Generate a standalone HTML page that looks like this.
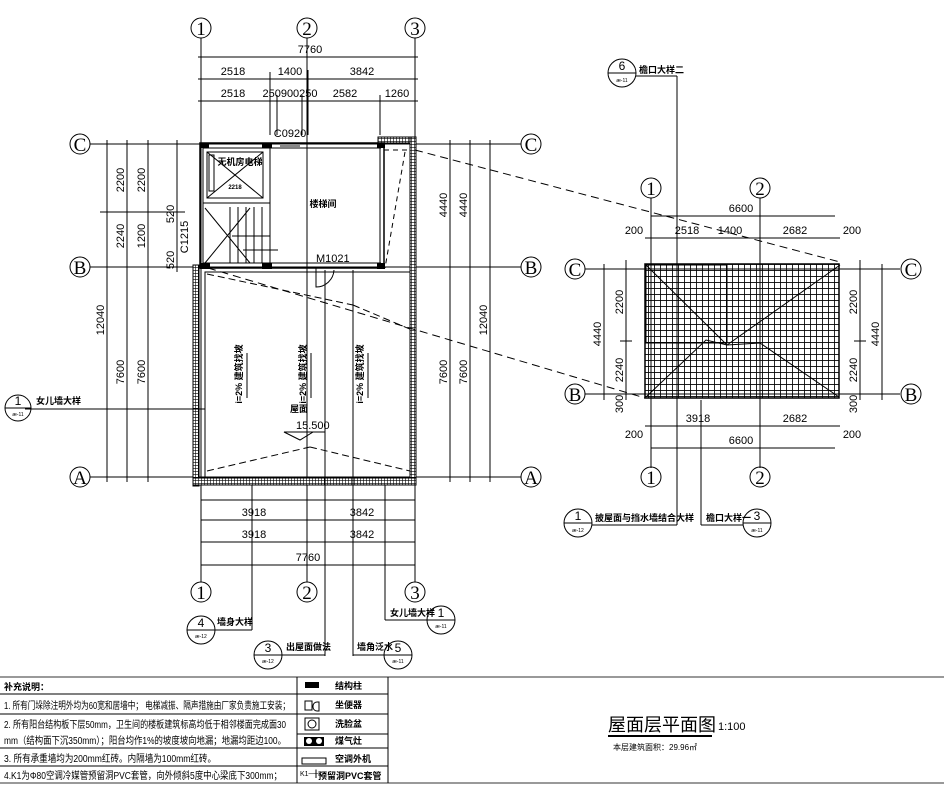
<!DOCTYPE html>
<html><head><meta charset="utf-8"><style>
html,body{margin:0;padding:0;background:#fff;}
svg{display:block;font-family:"Liberation Sans","Noto Sans CJK SC",sans-serif;}
.l{stroke:#000;stroke-width:1;fill:none}
.t{font-size:11px;fill:#000}
.g{font-family:"Liberation Serif",serif;font-size:19px;fill:#000}
.c{font-size:9px;fill:#000;font-weight:bold}
</style></head><body>
<svg width="944" height="785" viewBox="0 0 944 785" xmlns="http://www.w3.org/2000/svg">
<defs>
<pattern id="h" width="3" height="3" patternUnits="userSpaceOnUse"><rect width="3" height="3" fill="#fff"/><path d="M0 0H3M0 0V3" stroke="#000" stroke-width="1.2"/></pattern>
<pattern id="r" width="6" height="6" patternUnits="userSpaceOnUse"><rect width="6" height="6" fill="#fff"/><path d="M0 0H6M0 0V6" stroke="#000" stroke-width="1.7"/></pattern>
</defs>
<rect width="944" height="785" fill="#fff"/>

<!-- ===== LEFT PLAN ===== -->
<g class="l">
<line x1="201" y1="38" x2="201" y2="582"/><line x1="307" y1="38" x2="307" y2="582"/><line x1="415" y1="38" x2="415" y2="582"/>
<line x1="90" y1="144" x2="521" y2="144"/><line x1="90" y1="267" x2="521" y2="267"/><line x1="90" y1="477" x2="521" y2="477"/>
</g>
<g class="l">
<circle cx="201" cy="28" r="10"/><circle cx="307" cy="28" r="10"/><circle cx="415" cy="28" r="10"/>
<circle cx="201" cy="592" r="10"/><circle cx="307" cy="592" r="10"/><circle cx="415" cy="592" r="10"/>
<circle cx="80" cy="144" r="10"/><circle cx="80" cy="267" r="10"/><circle cx="80" cy="477" r="10"/>
<circle cx="531" cy="144" r="10"/><circle cx="531" cy="267" r="10"/><circle cx="531" cy="477" r="10"/>
</g>
<g class="g" text-anchor="middle">
<text x="201" y="35">1</text><text x="307" y="35">2</text><text x="415" y="35">3</text>
<text x="201" y="599">1</text><text x="307" y="599">2</text><text x="415" y="599">3</text>
<text x="80" y="151">C</text><text x="80" y="274">B</text><text x="80" y="484">A</text>
<text x="531" y="151">C</text><text x="531" y="274">B</text><text x="531" y="484">A</text>
</g>
<g class="l">
<line x1="198" y1="57" x2="418" y2="57"/><line x1="198" y1="79" x2="418" y2="79"/><line x1="198" y1="101" x2="418" y2="101"/>
<line x1="270" y1="72" x2="270" y2="135"/><line x1="308" y1="70" x2="308" y2="135"/><line x1="277" y1="95" x2="277" y2="135"/><line x1="302" y1="95" x2="302" y2="135"/><line x1="380" y1="95" x2="380" y2="135"/>
<line x1="201" y1="500" x2="415" y2="500"/><line x1="201" y1="520" x2="415" y2="520"/><line x1="201" y1="542" x2="415" y2="542"/><line x1="201" y1="565" x2="415" y2="565"/>
</g>
<g class="t" text-anchor="middle">
<text x="310" y="53">7760</text>
<text x="233" y="75">2518</text><text x="290" y="75">1400</text><text x="362" y="75">3842</text>
<text x="233" y="97">2518</text><text x="290" y="97">250900250</text><text x="345" y="97">2582</text><text x="397" y="97">1260</text>
<text x="290" y="137">C0920</text>
<text x="254" y="516">3918</text><text x="362" y="516">3842</text>
<text x="254" y="538">3918</text><text x="362" y="538">3842</text>
<text x="308" y="561">7760</text>
</g>
<g class="l">
<line x1="107" y1="140" x2="107" y2="482"/><line x1="127" y1="140" x2="127" y2="482"/><line x1="148" y1="140" x2="148" y2="482"/><line x1="177" y1="140" x2="177" y2="272"/>
<line x1="100" y1="212" x2="185" y2="212"/>
<line x1="450" y1="140" x2="450" y2="482"/><line x1="470" y1="140" x2="470" y2="482"/><line x1="490" y1="140" x2="490" y2="482"/>
</g>
<g class="t" text-anchor="middle">
<text transform="translate(124,180) rotate(-90)">2200</text><text transform="translate(145,180) rotate(-90)">2200</text>
<text transform="translate(124,236) rotate(-90)">2240</text><text transform="translate(145,236) rotate(-90)">1200</text>
<text transform="translate(174,214) rotate(-90)">520</text><text transform="translate(174,260) rotate(-90)">520</text>
<text transform="translate(104,320) rotate(-90)">12040</text>
<text transform="translate(124,372) rotate(-90)">7600</text><text transform="translate(145,372) rotate(-90)">7600</text>
<text transform="translate(188,237) rotate(-90)">C1215</text>
<text transform="translate(447,205) rotate(-90)">4440</text><text transform="translate(467,205) rotate(-90)">4440</text>
<text transform="translate(487,320) rotate(-90)">12040</text>
<text transform="translate(447,372) rotate(-90)">7600</text><text transform="translate(467,372) rotate(-90)">7600</text>
</g>
<rect x="378" y="137" width="37" height="6" fill="url(#h)" stroke="#000"/>
<rect x="410" y="137" width="6" height="348" fill="url(#h)" stroke="#000"/>
<rect x="193" y="265" width="6" height="221" fill="url(#h)" stroke="#000"/>
<rect x="193" y="478" width="223" height="7" fill="url(#h)" stroke="#000"/>
<g class="l">
<rect x="200" y="143" width="184" height="125" stroke-width="1.5"/>
<line x1="203" y1="148" x2="381" y2="148"/><line x1="380" y1="143" x2="380" y2="268"/>
<line x1="203" y1="143" x2="203" y2="268"/><line x1="203" y1="263" x2="381" y2="263"/>
<rect x="207" y="152" width="56" height="46"/><line x1="207" y1="152" x2="263" y2="198"/><line x1="263" y1="152" x2="207" y2="198"/>
<rect x="209" y="155" width="5" height="36"/>
<line x1="203" y1="203" x2="270" y2="203"/><line x1="270" y1="143" x2="270" y2="268"/>
<line x1="205" y1="208" x2="250" y2="263"/><line x1="205" y1="263" x2="250" y2="208"/>
<line x1="230" y1="207" x2="230" y2="263"/><line x1="238" y1="207" x2="238" y2="263"/><line x1="246" y1="207" x2="246" y2="263"/><line x1="254" y1="207" x2="254" y2="263"/><line x1="262" y1="207" x2="262" y2="263"/>
<line x1="232" y1="236" x2="270" y2="236"/><line x1="243" y1="250" x2="278" y2="250"/>
<rect x="205" y="272" width="205" height="206"/>
<line x1="207" y1="274" x2="353" y2="305" stroke-dasharray="7,4"/>
<line x1="353" y1="305" x2="412" y2="330" stroke-dasharray="7,4"/>
<line x1="384" y1="150" x2="410" y2="150" stroke-dasharray="5,4"/><line x1="405" y1="152" x2="385" y2="268" stroke-dasharray="5,4"/>
<line x1="207" y1="471" x2="310" y2="447" stroke-dasharray="7,4"/><line x1="310" y1="447" x2="410" y2="471" stroke-dasharray="7,4"/>
<path d="M316 268 V287 A18 18 0 0 0 334 270"/>
<line x1="325" y1="270" x2="325" y2="656"/><line x1="353" y1="270" x2="353" y2="656"/>
<line x1="385" y1="485" x2="385" y2="620"/><line x1="252" y1="485" x2="252" y2="630"/>
<line x1="25" y1="409" x2="205" y2="409"/>
<line x1="247" y1="353" x2="247" y2="398"/><line x1="311" y1="353" x2="311" y2="398"/><line x1="368" y1="353" x2="368" y2="398"/>
<path d="M284 432 L300 440 L313 432 Z"/><line x1="300" y1="432" x2="325" y2="432"/>
</g>
<g fill="#000"><rect x="200" y="143" width="9" height="5"/><rect x="262" y="143" width="10" height="5"/><rect x="377" y="143" width="8" height="5"/><rect x="200" y="263" width="10" height="6"/><rect x="262" y="263" width="10" height="6"/><rect x="377" y="263" width="8" height="6"/></g>
<rect x="280" y="144" width="20" height="3" fill="#888"/>
<g class="c" text-anchor="middle">
<text x="240" y="165">无机房电梯</text><text x="235" y="189" font-size="6">2218</text>
<text x="323" y="207">楼梯间</text>
<text x="299" y="412">屋面</text>
<text transform="translate(242,374) rotate(-90)">i=2% 建筑找坡</text>
<text transform="translate(306,374) rotate(-90)">i=2% 建筑找坡</text>
<text transform="translate(363,374) rotate(-90)">i=2% 建筑找坡</text>
</g>
<text class="t" x="316" y="262">M1021</text>
<text class="t" x="296" y="429" font-size="12">15.500</text>
<g class="l">
<circle cx="18" cy="408" r="13"/><line x1="5" y1="408" x2="31" y2="408"/>
<circle cx="201" cy="630" r="14"/><line x1="187" y1="630" x2="215" y2="630"/>
<circle cx="268" cy="655" r="14"/><line x1="254" y1="655" x2="282" y2="655"/><line x1="282" y1="655" x2="325" y2="655"/>
<circle cx="398" cy="655" r="14"/><line x1="384" y1="655" x2="412" y2="655"/><line x1="353" y1="655" x2="384" y2="655"/>
<circle cx="441" cy="620" r="14"/><line x1="427" y1="620" x2="455" y2="620"/><line x1="385" y1="620" x2="427" y2="620"/>
<line x1="215" y1="630" x2="252" y2="630"/>
</g>
<g font-size="12" text-anchor="middle" fill="#000">
<text x="18" y="405">1</text><text x="201" y="627">4</text><text x="268" y="652">3</text><text x="398" y="652">5</text><text x="441" y="617">1</text>
</g>
<g font-size="5" text-anchor="middle" fill="#000">
<text x="18" y="416">æ-11</text><text x="201" y="638">æ-12</text><text x="268" y="663">æ-12</text><text x="398" y="663">æ-11</text><text x="441" y="628">æ-11</text>
</g>
<g class="c"><text x="36" y="404">女儿墙大样</text><text x="217" y="625">墙身大样</text><text x="286" y="650">出屋面做法</text><text x="357" y="650">墙角泛水</text><text x="390" y="616">女儿墙大样</text></g>

<!-- ===== RIGHT PLAN ===== -->
<g class="l" stroke-dasharray="8,5">
<line x1="415" y1="150" x2="840" y2="262"/><line x1="208" y1="268" x2="645" y2="398"/>
</g>
<rect x="645" y="264" width="194" height="134" fill="url(#r)" stroke="#000" stroke-width="1.5"/>
<g class="l" stroke-width="1.5">
<path d="M646 265 L727 345 L840 265"/><path d="M646 397 L706 340 L727 345 L760 343 L839 397"/>
<rect x="646" y="265" width="81" height="78" fill="none"/>
</g>
<g class="l">
<line x1="651" y1="198" x2="651" y2="468"/><line x1="760" y1="198" x2="760" y2="468"/>
<line x1="585" y1="269" x2="900" y2="269"/><line x1="585" y1="394" x2="900" y2="394"/>
<circle cx="651" cy="188" r="10"/><circle cx="760" cy="188" r="10"/><circle cx="651" cy="477" r="10"/><circle cx="760" cy="477" r="10"/>
<circle cx="575" cy="269" r="10"/><circle cx="575" cy="394" r="10"/><circle cx="911" cy="269" r="10"/><circle cx="911" cy="394" r="10"/>
<line x1="651" y1="216" x2="835" y2="216"/><line x1="645" y1="238" x2="840" y2="238"/>
<line x1="645" y1="426" x2="840" y2="426"/><line x1="651" y1="448" x2="835" y2="448"/>
<line x1="604" y1="264" x2="604" y2="400"/><line x1="626" y1="260" x2="626" y2="400"/><line x1="860" y1="260" x2="860" y2="400"/><line x1="882" y1="264" x2="882" y2="400"/>
<line x1="620" y1="341" x2="632" y2="341"/><line x1="854" y1="341" x2="866" y2="341"/>
<line x1="677" y1="76" x2="677" y2="400"/><line x1="701" y1="400" x2="701" y2="525"/>
<circle cx="622" cy="73" r="14"/><line x1="608" y1="73" x2="636" y2="73"/><line x1="636" y1="76" x2="677" y2="76"/>
<circle cx="578" cy="523" r="14"/><line x1="564" y1="523" x2="592" y2="523"/><line x1="592" y1="525" x2="677" y2="525"/><line x1="677" y1="400" x2="677" y2="525"/>
<circle cx="757" cy="523" r="14"/><line x1="743" y1="523" x2="771" y2="523"/><line x1="701" y1="525" x2="743" y2="525"/>
</g>
<g class="g" text-anchor="middle">
<text x="651" y="195">1</text><text x="760" y="195">2</text><text x="651" y="484">1</text><text x="760" y="484">2</text>
<text x="575" y="276">C</text><text x="575" y="401">B</text><text x="911" y="276">C</text><text x="911" y="401">B</text>
</g>
<g class="t" text-anchor="middle">
<text x="741" y="212">6600</text>
<text x="634" y="234">200</text><text x="687" y="234">2518</text><text x="730" y="234">1400</text><text x="795" y="234">2682</text><text x="852" y="234">200</text>
<text x="698" y="422">3918</text><text x="795" y="422">2682</text>
<text x="634" y="438">200</text><text x="741" y="444">6600</text><text x="852" y="438">200</text>
<text transform="translate(601,334) rotate(-90)">4440</text><text transform="translate(623,302) rotate(-90)">2200</text><text transform="translate(623,370) rotate(-90)">2240</text><text transform="translate(623,404) rotate(-90)">300</text>
<text transform="translate(857,302) rotate(-90)">2200</text><text transform="translate(857,370) rotate(-90)">2240</text><text transform="translate(857,404) rotate(-90)">300</text><text transform="translate(879,334) rotate(-90)">4440</text>
</g>
<g font-size="12" text-anchor="middle" fill="#000"><text x="622" y="70">6</text><text x="578" y="520">1</text><text x="757" y="520">3</text></g>
<g font-size="5" text-anchor="middle" fill="#000"><text x="622" y="82">æ-11</text><text x="578" y="532">æ-12</text><text x="757" y="532">æ-11</text></g>
<g class="c"><text x="639" y="73">檐口大样二</text><text x="595" y="521">披屋面与挡水墙结合大样</text><text x="706" y="521">檐口大样一</text></g>

<!-- ===== LEGEND TABLE ===== -->
<g class="l">
<line x1="0" y1="677" x2="944" y2="677" stroke="#999" stroke-width="2"/>
<line x1="0" y1="783" x2="944" y2="783" stroke="#999" stroke-width="2"/>
<line x1="297" y1="677" x2="297" y2="783"/><line x1="388" y1="677" x2="388" y2="783"/>
<line x1="0" y1="694" x2="388" y2="694"/><line x1="0" y1="714" x2="388" y2="714"/><line x1="297" y1="734" x2="388" y2="734"/><line x1="0" y1="748" x2="388" y2="748"/><line x1="0" y1="766" x2="388" y2="766"/>
<rect x="305" y="701" width="7" height="9"/><path d="M313 706 a4 4 0 0 1 4 -4 h2 v9 h-2 a4 4 0 0 1 -4 -4 z"/>
<rect x="305" y="718" width="14" height="12"/><circle cx="312" cy="724" r="4"/>
<rect x="302" y="758" width="24" height="6"/>
</g>
<rect x="305" y="682" width="14" height="6" fill="#000"/>
<rect x="304" y="737" width="20" height="9" fill="#000"/><circle cx="309" cy="741" r="3" fill="#fff"/><circle cx="319" cy="741" r="3" fill="#fff"/>
<g font-size="10" fill="#000" lengthAdjust="spacingAndGlyphs">
<text x="4" y="690" font-weight="bold" font-size="9">补充说明：</text>
<text x="4" y="709" textLength="286" lengthAdjust="spacingAndGlyphs">1.  所有门垛除注明外均为60宽和居墙中；  电梯减振、隔声措施由厂家负责施工安装；</text>
<text x="4" y="728" textLength="282" lengthAdjust="spacingAndGlyphs">2.  所有阳台结构板下层50mm，卫生间的楼板建筑标高均低于相邻楼面完成面30</text>
<text x="4" y="744" textLength="282" lengthAdjust="spacingAndGlyphs">mm（结构面下沉350mm）；阳台均作1%的坡度坡向地漏；地漏均距边100。</text>
<text x="4" y="762" textLength="212" lengthAdjust="spacingAndGlyphs">3.  所有承重墙均为200mm红砖。内隔墙为100mm红砖。</text>
<text x="4" y="779" textLength="278" lengthAdjust="spacingAndGlyphs">4.K1为Φ80空调冷媒管预留洞PVC套管，向外倾斜5度中心梁底下300mm；</text>
</g>
<g class="c"><text x="335" y="689">结构柱</text><text x="335" y="708">坐便器</text><text x="335" y="727">洗脸盆</text><text x="335" y="744">煤气灶</text><text x="335" y="762">空调外机</text><text x="318" y="779">预留洞PVC套管</text></g>
<text x="300" y="776" font-size="7">K1─╫</text>
<text x="608" y="731" font-size="18" fill="#000">屋面层平面图</text>
<line x1="608" y1="736" x2="712" y2="736" stroke="#000" stroke-width="2"/>
<text x="718" y="730" font-size="11" fill="#000">1:100</text>
<text x="613" y="750" font-size="8" fill="#000">本层建筑面积：29.96㎡</text>
</svg>
</body></html>
